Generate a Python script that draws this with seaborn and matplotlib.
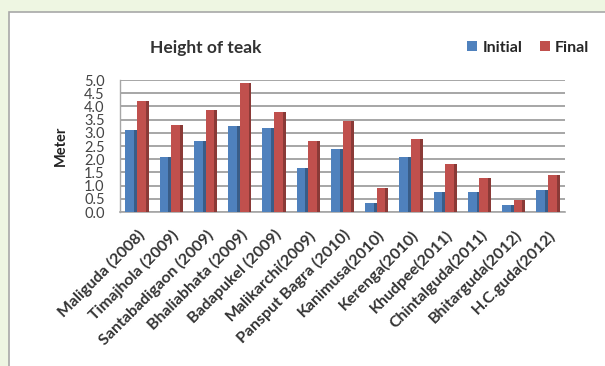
import matplotlib
matplotlib.use("Agg")
import matplotlib.pyplot as plt
from matplotlib.patches import Rectangle, Patch
import seaborn as sns
import pandas as pd

sites = ["Maliguda (2008)", "Timajhola (2009)", "Santabadigaon (2009)",
         "Bhaliabhata (2009)", "Badapukel (2009)", "Malikarchi(2009)",
         "Pansput Bagra (2010)", "Kanimusa(2010)", "Kerenga(2010)",
         "Khudpee(2011)", "Chintalguda(2011)", "Bhitarguda(2012)",
         "H.C.guda(2012)"]
initial = [3.1, 2.1, 2.7, 3.25, 3.2, 1.65, 2.4, 0.35, 2.1, 0.75, 0.75, 0.25, 0.85]
final = [4.2, 3.3, 3.85, 4.9, 3.8, 2.7, 3.45, 0.9, 2.75, 1.8, 1.3, 0.45, 1.4]
series = ["Initial", "Final"]
yticks = [0.0, 0.5, 1.0, 1.5, 2.0, 2.5, 3.0, 3.5, 4.0, 4.5, 5.0]

df = pd.DataFrame({
    "Site": sites * 2,
    "Height": initial + final,
    "Series": [series[0]] * len(sites) + [series[1]] * len(sites),
})

sns.set_style("white")
plt.rcParams["font.family"] = ["Lato", "DejaVu Sans"]

colors = {"Initial": "#4f81bd", "Final": "#c0504d"}

fig = plt.figure(figsize=(6.05, 3.66), dpi=100)
fig.patch.set_facecolor("#eef6e2")

# white chart panel with a grey frame
panel = Rectangle((9 / 605, -0.05), 1.0, 1 - 12 / 366 + 0.05,
                  transform=fig.transFigure, facecolor="white",
                  edgecolor="#a8a8a8", linewidth=1.2, zorder=-10)
fig.patches.append(panel)

ax = fig.add_axes([120 / 605, 1 - 212 / 366, (565 - 120) / 605, (212 - 80) / 366])
ax.set_zorder(5)
ax.set_facecolor("none")

sns.barplot(data=df, x="Site", y="Height", hue="Series", palette=colors,
            width=0.68, saturation=1, ax=ax, zorder=3, legend=False,
            edgecolor="none")

# darker right-hand strip on each bar for a raised look
for patch in list(ax.patches):
    x0, w, h = patch.get_x(), patch.get_width(), patch.get_height()
    fc = patch.get_facecolor()
    shade = tuple(c * 0.72 for c in fc[:3]) + (1,)
    ax.add_patch(Rectangle((x0 + w * 0.75, 0), w * 0.25, h,
                           facecolor=shade, edgecolor="none", zorder=4))

ax.set_ylim(0, 5.0)
ax.set_xlim(-0.45, len(sites) - 0.55)
ax.set_yticks(yticks)
ax.set_yticklabels([f"{v:.1f}" for v in yticks], fontsize=10.5, color="#444444")
ax.yaxis.grid(True, color="#a6a6a6", linewidth=1.4, zorder=0)
ax.set_axisbelow(True)

for side in ["top", "right"]:
    ax.spines[side].set_visible(False)
ax.spines["left"].set_color("#a6a6a6")
ax.spines["bottom"].set_color("#a6a6a6")
ax.spines["left"].set_linewidth(1.0)
ax.spines["bottom"].set_linewidth(1.2)

ax.set_xticks(range(len(sites)))
ax.set_xticklabels(sites, rotation=45, ha="right", rotation_mode="anchor",
                   fontsize=11.5, fontweight="bold", color="#333333")
ax.set_xticks([i - 0.5 for i in range(len(sites) + 1)], minor=True)
ax.tick_params(axis="x", which="minor", length=5, color="#a6a6a6", width=1)
ax.tick_params(axis="x", which="major", length=0, pad=11)
ax.tick_params(axis="y", length=0, pad=11)

ax.set_xlabel("")
ax.set_ylabel("Meter", fontsize=10.5, fontweight="bold", labelpad=12, color="#222222")

fig.text(206 / 605, 1 - 48 / 366, "Height of teak", ha="center", va="center",
         fontsize=12.5, fontweight="bold", color="#333333")

handles = [Patch(facecolor=colors[s], edgecolor="none") for s in series]
fig.legend(handles, series, loc="center right", bbox_to_anchor=(0.998, 1 - 48 / 366),
           ncol=2, frameon=False, handlelength=0.6, handleheight=0.6,
           handletextpad=0.35, columnspacing=1.1, prop={"weight": "bold", "size": 11.5})

fig.savefig("out.png", dpi=100, facecolor=fig.get_facecolor())
